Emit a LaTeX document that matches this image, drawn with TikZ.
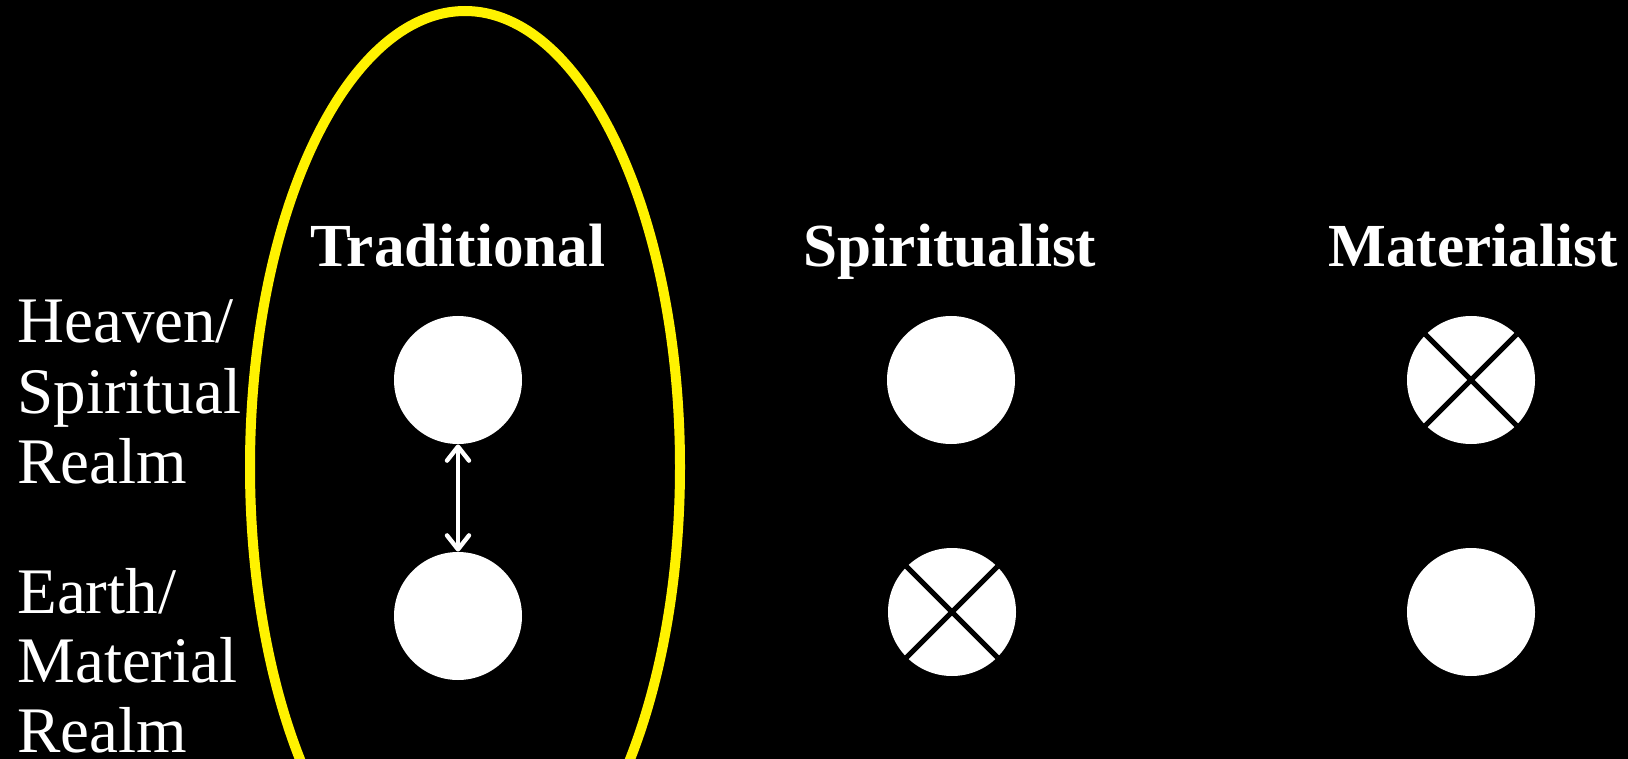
\documentclass[tikz,border=0pt]{standalone}
\usepackage{fontspec}
\setmainfont{Liberation Serif}
\usetikzlibrary{arrows.meta}
\begin{document}
\begin{tikzpicture}[x=0.5pt,y=-0.5pt,
  dot/.style={circle,fill=white,minimum size=64pt,inner sep=0pt},
  head/.style={anchor=base,inner sep=0pt,text=white,font=\fontsize{30.6}{36}\selectfont\bfseries},
  side/.style={anchor=base west,inner sep=0pt,text=white,font=\fontsize{32.5}{35}\selectfont},
  cross/.style={black,line width=2.5pt},
  link/.style={white,line width=2.2pt,{Straight Barb[round,length=7pt,width=11pt]}-{Straight Barb[round,length=7pt,width=11pt]}}]
\useasboundingbox (0,0) rectangle (1628,759);
\fill[black] (0,0) rectangle (1628,759);
\begin{scope}
\clip (0,0) rectangle (1628,759);
\draw[yellow,line width=5pt] (465,467) ellipse [x radius=215,y radius=456];
\end{scope}
% column heads
\node[head] (trad) at (458,267) {Traditional};
\node[head] (spir) at (950,267) {Spiritualist};
\node[head] (mat) at (1473,267) {Materialist};
% row labels
\node[side] (h1) at (17,343) {Heaven/};
\node[side] (h2) at (17,413) {Spiritual};
\node[side] (h3) at (17,483) {Realm};
\node[side] (e1) at (17,613) {Earth/};
\node[side] (e2) at (17,682) {Material};
\node[side] (e3) at (17,752) {Realm};
% circles
\node[dot] (t1) at (458,380) {};
\node[dot] (t2) at (458,616) {};
\node[dot] (s1) at (951,380) {};
\node[dot] (s2) at (952,612) {};
\node[dot] (m1) at (1471,380) {};
\node[dot] (m2) at (1471,612) {};
\draw[cross] (s2.north west) -- (s2.south east) (s2.north east) -- (s2.south west);
\draw[cross] (m1.north west) -- (m1.south east) (m1.north east) -- (m1.south west);
\draw[link] (t1) -- (t2);
\end{tikzpicture}
\end{document}
